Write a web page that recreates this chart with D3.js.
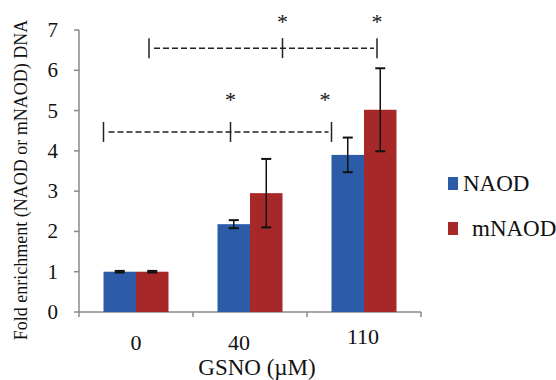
<!DOCTYPE html>
<html><head><meta charset="utf-8">
<script src="https://cdn.jsdelivr.net/npm/d3@7"></script>
<style>body{margin:0;background:#fff}svg{display:block}text{font-family:"Liberation Serif","Times New Roman",serif;fill:#111}</style>
</head><body><svg id="c" width="556" height="380"></svg>
<script>
const categories = ["0", "40", "110"];
const seriesNames = ["NAOD", "mNAOD"];
const naod = [1.0, 2.18, 3.9];
const mnaod = [1.0, 2.95, 5.02];
const naodErr = [0.02, 0.1, 0.43];
const mnaodErr = [0.02, 0.85, 1.03];
const yTicks = [0, 1, 2, 3, 4, 5, 6, 7];
// significance brackets: [category, series, offset within bar] for each tick, level in data units
const lowerBracket = {level: 4.47, pts: [[0, 0, -0.5], [1, 0, -0.1], [2, 0, -0.5]]};
const upperBracket = {level: 6.55, pts: [[0, 1, -0.1], [1, 1, 0.5], [2, 1, -0.1]]};
const stars = [[1, 0, -0.1, 5.4], [2, 0, -0.7, 5.4], [1, 1, 0.5, 7.35], [2, 1, -0.1, 7.35]];

const colors = ["#2C5BA8", "#A62828"];
const svg = d3.select("#c");
const x = d3.scaleBand().domain(categories).range([79, 421]).paddingInner(0).paddingOuter(0);
const bw = 32.5;
const y = d3.scaleLinear().domain([0, 7]).range([312, 30]);
const barX = (ci, si) => x(categories[ci]) + x.bandwidth()/2 + (si - 1) * bw;

// axes
svg.append("line").attr("x1",79).attr("x2",79).attr("y1",y(7)).attr("y2",y(0)).attr("stroke","#8a8a8a").attr("stroke-width",1.5);
svg.append("line").attr("x1",79).attr("x2",421).attr("y1",y(0)).attr("y2",y(0)).attr("stroke","#8a8a8a").attr("stroke-width",1.5);
yTicks.forEach(t => {
  svg.append("line").attr("x1",74).attr("x2",79).attr("y1",y(t)).attr("y2",y(t)).attr("stroke","#8a8a8a").attr("stroke-width",1.5);
  svg.append("text").attr("x",58).attr("y",y(t)+7).attr("text-anchor","end").attr("font-size",21).text(t);
});
[0,1,2,3].forEach(i => {
  const xx = i < 3 ? x(categories[i]) : x(categories[2]) + x.bandwidth();
  svg.append("line").attr("x1",xx).attr("x2",xx).attr("y1",y(0)).attr("y2",y(0)+5).attr("stroke","#8a8a8a").attr("stroke-width",1.5);
});
const xLabelY = [350, 350, 344];
const xLabelShift = [0, -11, -1];
categories.forEach((c, i) => {
  svg.append("text").attr("x", x(c) + x.bandwidth()/2 + xLabelShift[i]).attr("y", xLabelY[i]).attr("text-anchor","middle").attr("font-size",22).text(c);
});
svg.append("text").attr("x",257).attr("y",375).attr("text-anchor","middle").attr("font-size",23).text("GSNO (\u00B5M)");
svg.append("text").attr("transform","translate(27,180) rotate(-90)").attr("text-anchor","middle").attr("font-size",18).text("Fold enrichment (NAOD or mNAOD) DNA");

// bars
[naod, mnaod].forEach((vals, si) => {
  const errs = si === 0 ? naodErr : mnaodErr;
  vals.forEach((v, ci) => {
    const bx = barX(ci, si);
    svg.append("rect").attr("x", bx).attr("y", y(v)).attr("width", bw).attr("height", y(0) - y(v)).attr("fill", colors[si]);
    const cx = bx + bw/2, e = errs[ci];
    svg.append("line").attr("x1",cx).attr("x2",cx).attr("y1",y(v+e)).attr("y2",y(v-e)).attr("stroke","#111").attr("stroke-width",1.5);
    [v+e, v-e].forEach(yy => svg.append("line").attr("x1",cx-5).attr("x2",cx+5).attr("y1",y(yy)).attr("y2",y(yy)).attr("stroke","#111").attr("stroke-width",2));
  });
});

// brackets
[lowerBracket, upperBracket].forEach(b => {
  const xs = b.pts.map(p => barX(p[0], p[1]) + bw/2 + p[2]*bw);
  const yl = y(b.level);
  svg.append("line").attr("x1",xs[0]+5).attr("x2",xs[2]-3).attr("y1",yl).attr("y2",yl).attr("stroke","#222").attr("stroke-width",1.5).attr("stroke-dasharray","6,3");
  xs.forEach(xx => svg.append("line").attr("x1",xx).attr("x2",xx).attr("y1",yl-10).attr("y2",yl+10).attr("stroke","#222").attr("stroke-width",1.5));
});
stars.forEach(s => {
  const xx = barX(s[0], s[1]) + bw/2 + s[2]*bw;
  svg.append("text").attr("x", xx).attr("y", y(s[3]) + 13).attr("text-anchor","middle").attr("font-size",22).attr("font-family","DejaVu Sans").text("*");
});

// legend
seriesNames.forEach((n, i) => {
  const ly = [184, 229][i];
  svg.append("rect").attr("x",448).attr("y",ly-7).attr("width",10).attr("height",13).attr("fill",colors[i]);
  svg.append("text").attr("x",[463,472][i]).attr("y",ly+7).attr("font-size",23).text(n);
});
</script></body></html>
